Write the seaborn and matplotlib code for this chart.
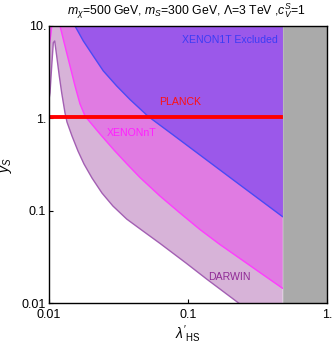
import numpy as np
import pandas as pd
import matplotlib
matplotlib.use("Agg")
import matplotlib.pyplot as plt
import seaborn as sns

# ---- data ----
darwin_x = [0.0100, 0.01017, 0.01046, 0.01074, 0.01099, 0.01136, 0.01186, 0.01234, 0.01303, 0.01347,
            0.01464, 0.01617, 0.01786, 0.02040, 0.02406, 0.02886, 0.03622, 0.04644, 0.06288,
            0.0979, 0.1363, 0.2301, 0.48]
darwin_y = [1.6, 1.89, 3.69, 6.6, 6.88, 4.73, 2.87, 1.89, 1.15, 0.912,
            0.643, 0.442, 0.320, 0.2255, 0.1551, 0.1121, 0.0811, 0.0616, 0.0442,
            0.02673, 0.01815, 0.01005, 0.00438]

xenonnt_x = [0.0100, 0.0103, 0.0106, 0.0110, 0.0120, 0.01303, 0.01416, 0.01539, 0.01671, 0.01816,
             0.01917, 0.02328, 0.02935, 0.03640, 0.04515, 0.06288, 0.0876, 0.1220, 0.1699,
             0.2366, 0.3296, 0.48]
xenonnt_y = [6.0, 8.0, 12.0, 20.0, 10.0, 6.07, 3.69, 2.24, 1.43, 1.059,
             0.958, 0.676, 0.4535, 0.320, 0.2284, 0.1439, 0.0942, 0.0624, 0.0429,
             0.0303, 0.02135, 0.01439]

xenon1t_x = [0.01538, 0.01766, 0.02083, 0.02459, 0.0307, 0.03826, 0.05182, 0.0784, 0.1363, 0.2366, 0.48]
xenon1t_y = [10.0, 6.88, 4.73, 3.26, 2.24, 1.598, 1.046, 0.659, 0.3534, 0.19, 0.0859]

planck_x = [0.0100, 0.48]
planck_y = [1.03, 1.03]

perturb_limit = 0.48  # grey region lower edge

x_ticks = [0.01, 0.1, 1.0]
x_ticklabels = ["0.01", "0.1", "1."]
y_ticks = [0.01, 0.1, 1.0, 10.0]
y_ticklabels = ["0.01", "0.1", "1.", "10."]

# ---- style ----
sns.set_theme(style="white")
plt.rcParams['font.family'] = ['Liberation Sans', 'DejaVu Sans']
plt.rcParams['mathtext.fontset'] = 'custom'
plt.rcParams['mathtext.rm'] = 'Liberation Sans'
plt.rcParams['mathtext.it'] = 'Liberation Sans:italic'
plt.rcParams['mathtext.bf'] = 'Liberation Sans:bold'
plt.rcParams['text.color'] = 'black'
plt.rcParams['axes.labelcolor'] = 'black'
plt.rcParams['xtick.color'] = 'black'
plt.rcParams['ytick.color'] = 'black'

fig = plt.figure(figsize=(3.32, 3.44), dpi=100)
ax = fig.add_axes([49/332, 1 - 303/344, 278/332, 277/344])

TOP = 10.0
c_lilac, c_pink, c_purple = "#d7b3d8", "#e07be2", "#9b58ea"
c_dline, c_mline, c_bline = "#a35fb3", "#ff3cff", "#4a4af5"

df_d = pd.DataFrame({"x": darwin_x, "y": darwin_y})
df_n = pd.DataFrame({"x": xenonnt_x, "y": xenonnt_y})
df_1 = pd.DataFrame({"x": xenon1t_x, "y": xenon1t_y})
df_p = pd.DataFrame({"x": planck_x, "y": planck_y})

ax.fill_between(df_d["x"], df_d["y"], 100, color=c_lilac, lw=0, zorder=1)
ax.fill_between(df_n["x"], df_n["y"], 100, color=c_pink, lw=0, zorder=2)
ax.fill_between(df_1["x"], df_1["y"], 100, color=c_purple, lw=0, zorder=3)

sns.lineplot(data=df_d, x="x", y="y", ax=ax, color=c_dline, lw=1.0, zorder=4, sort=False)
sns.lineplot(data=df_n, x="x", y="y", ax=ax, color=c_mline, lw=1.0, zorder=4, sort=False)
sns.lineplot(data=df_1, x="x", y="y", ax=ax, color=c_bline, lw=1.0, zorder=4, sort=False)
sns.lineplot(data=df_p, x="x", y="y", ax=ax, color="#ff0000", lw=2.8, zorder=5, sort=False)

ax.axvspan(perturb_limit, 1.0, color="#aaaaaa", lw=0, zorder=6)
ax.axvline(perturb_limit, color="#b8b8b8", lw=0.8, zorder=6)

ax.set_xscale("log")
ax.set_yscale("log")
ax.set_xlim(0.01, 1.0)
ax.set_ylim(0.01, TOP)
ax.set_xticks(x_ticks)
ax.set_xticklabels(x_ticklabels)
ax.set_yticks(y_ticks)
ax.set_yticklabels(y_ticklabels)
ax.minorticks_off()
ax.tick_params(direction="in", length=3, width=0.8, colors="black", labelsize=9,
               left=True, bottom=True)
ax.tick_params(axis="x", pad=4)
ax.tick_params(axis="y", pad=2)
for s in ax.spines.values():
    s.set_color("black")
    s.set_linewidth(1.0)
    s.set_zorder(10)

ax.text(0.445, 7.05, "XENON1T Excluded", color="#3c3cf5", fontsize=7.6, ha="right", va="center", zorder=7)
ax.text(0.0883, 1.52, "PLANCK", color="#ff1010", fontsize=7.6, ha="center", va="center", zorder=7)
ax.text(0.0393, 0.693, "XENONnT", color="#ff20ff", fontsize=7.6, ha="center", va="center", zorder=7)
ax.text(0.197, 0.0191, "DARWIN", color="#902a96", fontsize=7.6, ha="center", va="center", zorder=7)

ax.set_xlabel(r"$\lambda'_{\rm HS}$", fontsize=10, labelpad=2)
ax.set_ylabel(r"$y_S$", fontsize=10, labelpad=6)
fig.text(187/332, 1 - 11/344,
         r"$m_\chi$=500 GeV, $m_S$=300 GeV, Λ=3 TeV ,$c_V^S$=1",
         ha="center", va="center", fontsize=8.8, color="black")

fig.savefig("out.png", dpi=100)
